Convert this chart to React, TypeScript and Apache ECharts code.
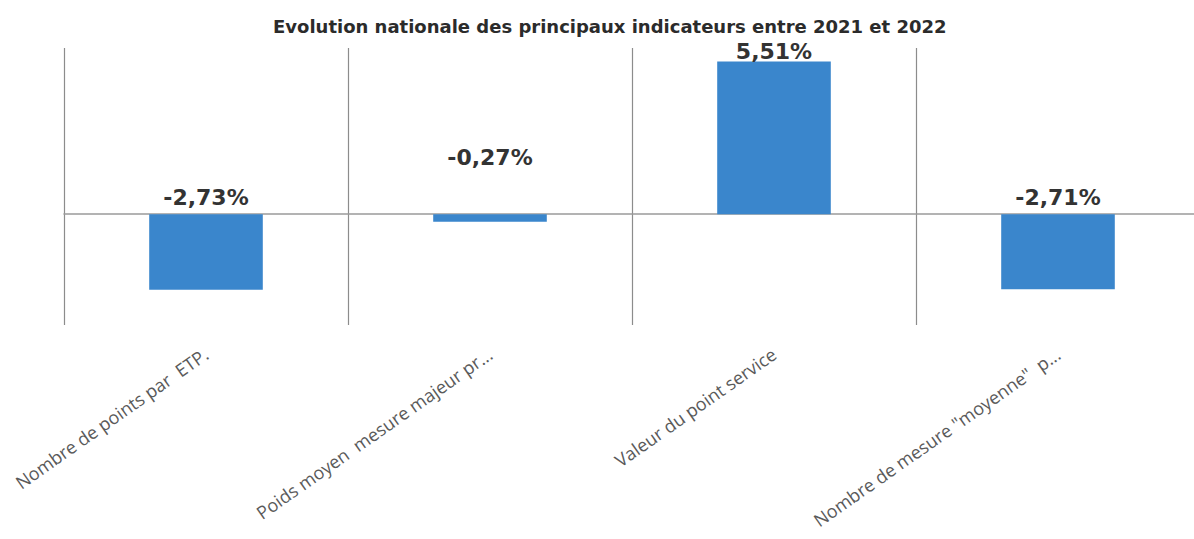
import React, { useEffect, useRef } from "react";
import * as echarts from "echarts";

const title = "Evolution nationale des principaux indicateurs entre 2021 et 2022";
const categories = [
  "Nombre de points par  ETP.",
  "Poids moyen  mesure majeur pr...",
  "Valeur du point service",
  "Nombre de mesure \"moyenne\"  p...",
];
const values = [-2.73, -0.27, 5.51, -2.71];
const labelDistances = [6, 46, -1, 6];

const fmt = (v: number) => v.toFixed(2).replace(".", ",") + "%";

export default function App() {
  const ref = useRef<HTMLDivElement>(null);
  useEffect(() => {
    if (!ref.current) return;
    const chart = echarts.init(ref.current, undefined, { renderer: "svg" });
    chart.setOption({
      animation: false,
      backgroundColor: "#ffffff",
      title: {
        text: title,
        left: 268,
        top: 12,
        textStyle: {
          fontFamily: "DejaVu Sans",
          fontWeight: "bold",
          fontSize: 18,
          color: "#2b2b2b",
        },
      },
      grid: {
        left: 64,
        top: 48,
        width: 1136,
        height: 277,
        containLabel: false,
        outerBoundsMode: "none",
      },
      xAxis: {
        type: "category",
        data: categories,
        boundaryGap: true,
        axisLine: { show: true, onZero: true, lineStyle: { color: "#9a9a9a", width: 1.5 } },
        axisTick: { show: false },
        splitLine: { show: true, lineStyle: { color: "#8c8c8c", width: 1.2 } },
        axisLabel: {
          interval: 0,
          rotate: 35,
          margin: 27,
          fontFamily: "Open Sans",
          fontSize: 18,
          color: "#5a5a5a",
        },
      },
      yAxis: {
        type: "value",
        min: -4,
        max: 6,
        interval: 2,
        show: false,
        splitLine: { show: false },
      },
      series: [
        {
          type: "bar",
          data: values.map((v, i) => ({
            value: v,
            label: { distance: labelDistances[i] },
          })),
          barWidth: "40%",
          itemStyle: { color: "#3a86cc" },
          label: {
            show: true,
            position: "top",
            formatter: (p: any) => fmt(p.value),
            fontFamily: "DejaVu Sans",
            fontWeight: "bold",
            fontSize: 22,
            color: "#333333",
          },
        },
      ],
    });
    return () => chart.dispose();
  }, []);
  return (
    <div
      ref={ref}
      style={{ position: "absolute", left: 0, top: 0, width: 1194, height: 539 }}
    />
  );
}
